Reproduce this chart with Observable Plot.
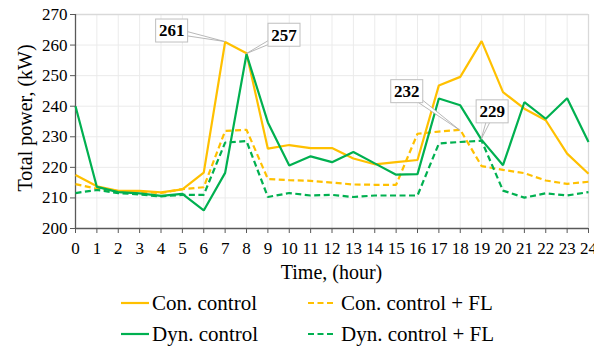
<!DOCTYPE html>
<html>
<head>
<meta charset="utf-8">
<script src="https://cdn.jsdelivr.net/npm/d3@7"></script>
<script src="https://cdn.jsdelivr.net/npm/@observablehq/plot@0.6"></script>
<style>
  html, body { margin: 0; padding: 0; background: #fff; }
  #wrap { position: relative; width: 594px; height: 350px; }
  #wrap, #wrap * { font-family: "Liberation Serif", "Times New Roman", serif !important; }
  #wrap svg text { fill: #000; }
  .leg { position: absolute; display: flex; align-items: center; font-size: 21px; color: #000; white-space: nowrap; line-height: 1; }
  .leg svg { display: block; margin-right: 3px; }
</style>
</head>
<body>
<div id="wrap"></div>
<script>
// ---- data ----
const hours = [0, 1, 2, 3, 4, 5, 6, 7, 8, 9, 10, 11, 12, 13, 14, 15, 16, 17, 18, 19, 20, 21, 22, 23, 24];
const conControl = [217.5, 213.8, 212.3, 212.3, 211.8, 212.8, 218.3, 261.0, 257.3, 226.1, 227.3, 226.3, 226.3, 222.9, 221.0, 221.7, 222.4, 246.8, 249.6, 261.3, 244.6, 239.2, 235.4, 224.5, 217.9];
const conControlFL = [214.5, 213.0, 212.2, 212.0, 211.6, 212.9, 213.5, 231.9, 232.3, 216.2, 215.8, 215.6, 215.0, 214.4, 214.3, 214.3, 231.0, 231.7, 232.3, 220.4, 219.2, 218.1, 215.7, 214.6, 215.3];
const dynControl = [240.0, 213.6, 211.9, 211.5, 210.7, 211.3, 205.9, 218.2, 257.0, 234.7, 220.6, 223.6, 221.7, 225.0, 221.3, 217.6, 217.8, 242.5, 240.3, 229.0, 220.7, 241.3, 235.9, 242.6, 228.3];
const dynControlFL = [211.6, 212.6, 211.6, 211.1, 210.5, 211.0, 211.0, 228.1, 228.6, 210.3, 211.6, 210.8, 211.0, 210.3, 210.8, 210.8, 210.8, 227.8, 228.3, 228.7, 212.4, 210.1, 211.5, 210.8, 211.9];
const seriesNames = ["Con. control", "Con. control + FL", "Dyn. control", "Dyn. control + FL"];
const yTicks = [200, 210, 220, 230, 240, 250, 260, 270];
const annHours = [7, 8, 18, 19];
const annValues = [261, 257, 232, 229];
const annLabels = ["261", "257", "232", "229"];
const xTitle = "Time, (hour)";
const yTitle = "Total power, (kW)";

// ---- styles (not data) ----
const ORANGE = "#FFC000", GREEN = "#00B050";
const seriesStyle = {
  "Con. control": {stroke: ORANGE, dash: null},
  "Con. control + FL": {stroke: ORANGE, dash: "6,3.5"},
  "Dyn. control": {stroke: GREEN, dash: null},
  "Dyn. control + FL": {stroke: GREEN, dash: "6,3.5"}
};
const seriesValues = [conControl, conControlFL, dynControl, dynControlFL];
const drawOrder = [1, 3, 0, 2];
// label box offsets (px) relative to the annotated point
const annOffsets = [[-53, -11], [38, -19], [-53, -39], [11, -28]];

const rows = [];
seriesNames.forEach((name, s) => hours.forEach((h, i) => rows.push({series: name, hour: h, value: seriesValues[s][i]})));

const lineMarks = drawOrder.map(s => {
  const name = seriesNames[s];
  return Plot.line(rows.filter(d => d.series === name), {
    x: "hour", y: "value",
    stroke: seriesStyle[name].stroke,
    strokeWidth: 2.2,
    strokeDasharray: seriesStyle[name].dash,
    strokeLinejoin: "miter", strokeLinecap: "butt"
  });
});

function annotations(index, scales) {
  const g = d3.create("svg:g");
  annHours.forEach((h, i) => {
    const px = scales.x(h), py = scales.y(annValues[i]);
    const cx = px + annOffsets[i][0], cy = py + annOffsets[i][1];
    const vx = px - cx, vy = py - cy, len = Math.hypot(vx, vy);
    const nx = -vy / len * 3, ny = vx / len * 3;
    g.append("path")
      .attr("d", `M${cx + nx},${cy + ny}L${px},${py}L${cx - nx},${cy - ny}Z`)
      .attr("fill", "#fff").attr("stroke", "#a6a6a6").attr("stroke-width", 0.8);
    const w = 32, hgt = 23;
    g.append("rect").attr("x", cx - w / 2).attr("y", cy - hgt / 2).attr("width", w).attr("height", hgt)
      .attr("fill", "#fff").attr("stroke", "#bfbfbf").attr("stroke-width", 1);
    g.append("text").attr("x", cx).attr("y", cy).attr("text-anchor", "middle").attr("dy", "0.35em")
      .attr("font-weight", "bold").attr("font-size", 17).text(annLabels[i]);
  });
  return g.node();
}

function titles(index, scales, values, dims) {
  const g = d3.create("svg:g").attr("font-size", 20);
  const x0 = dims.marginLeft, x1 = dims.width - dims.marginRight;
  const y0 = dims.marginTop, y1 = dims.height - dims.marginBottom;
  g.append("text").attr("x", (x0 + x1) / 2).attr("y", 272).attr("dy", "0.35em")
    .attr("text-anchor", "middle").text(xTitle);
  g.append("text").attr("transform", `translate(25,${(y0 + y1) / 2 - 3}) rotate(-90)`).attr("dy", "0.35em")
    .attr("text-anchor", "middle").text(yTitle);
  return g.node();
}

const chart = Plot.plot({
  width: 594, height: 290,
  marginLeft: 75, marginRight: 6, marginTop: 14, marginBottom: 62,
  style: {fontFamily: "'Liberation Serif', 'Times New Roman', serif", fontSize: "17px", color: "#595959", background: "#fff", overflow: "visible"},
  x: {domain: [0, 24], ticks: hours, tickSize: 5, tickPadding: 8, tickFormat: d => String(d), label: null},
  y: {domain: [200, 270], ticks: yTicks, tickSize: 5, tickPadding: 3, tickFormat: d => String(d), label: null},
  marks: [
    Plot.ruleX(hours.slice(1, -1), {stroke: "#ebebeb", strokeWidth: 1}),
    Plot.ruleY(yTicks.slice(1, -1), {stroke: "#ebebeb", strokeWidth: 1}),
    Plot.ruleY([270], {stroke: "#d9d9d9", strokeWidth: 1.3}),
    Plot.ruleX([24], {stroke: "#d9d9d9", strokeWidth: 1.3}),
    Plot.ruleX([0], {stroke: "#595959", strokeWidth: 1.3}),
    Plot.ruleY([200], {stroke: "#595959", strokeWidth: 1.3}),
    ...lineMarks,
    annotations,
    titles
  ]
});

const wrap = document.getElementById("wrap");
wrap.appendChild(chart);

// ---- legend (HTML, below the SVG) ----
const legendPos = [[121, 303], [308, 303], [121, 334], [308, 334]];
seriesNames.forEach((name, i) => {
  const div = document.createElement("div");
  div.className = "leg";
  div.style.left = legendPos[i][0] + "px";
  div.style.top = (legendPos[i][1] - 12) + "px";
  div.style.height = "24px";
  const st = seriesStyle[name];
  div.innerHTML = `<svg width="28" height="6"><line x1="0" y1="3" x2="28" y2="3" stroke="${st.stroke}" stroke-width="2.2" ${st.dash ? `stroke-dasharray="6,3.5"` : ""}/></svg><span>${name}</span>`;
  if (st.dash) div.querySelector("svg").style.marginRight = "5px";
  wrap.appendChild(div);
});
</script>
</body>
</html>
